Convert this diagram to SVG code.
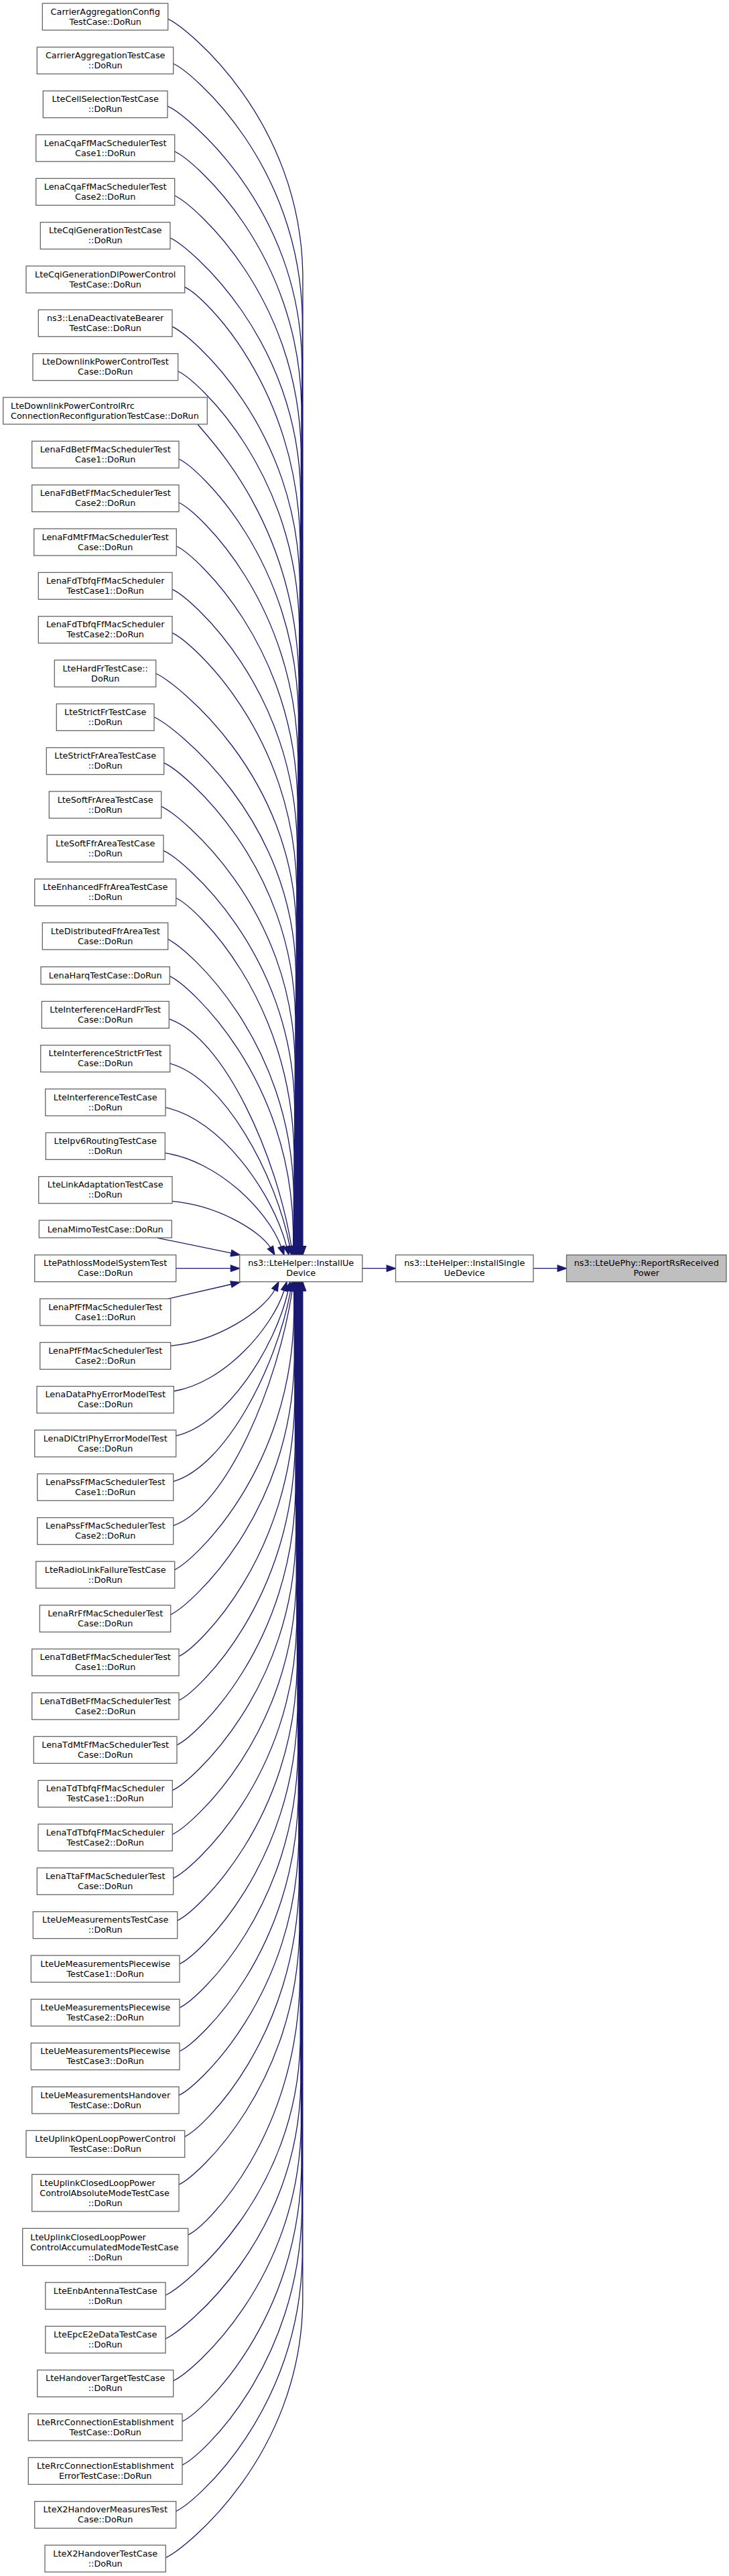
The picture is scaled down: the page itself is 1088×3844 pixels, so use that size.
<svg xmlns="http://www.w3.org/2000/svg" width="1088" height="3844" viewBox="0 0 1088 3844">
<style>
.n rect{fill:#fff;stroke:#666;stroke-width:1.3}
.g rect{fill:#bfbfbf;stroke:#666;stroke-width:1.3}
text{font-family:"DejaVu Sans",sans-serif;font-size:12.8px;fill:#000;text-anchor:middle}
text.l{text-anchor:start}
.e path{fill:none;stroke:#191970;stroke-width:1.3}
.e polygon{fill:#191970;stroke:#191970;stroke-width:1.3}
</style>
<rect width="1088" height="3844" fill="#fff"/>
<g id="connectors" class="e">
<path d="M250.7,28.3 C280.7,42.3 447.9,178.3 451.9,408.3 L451.9,1859.7"/><polygon points="447.2,1859.7 451.9,1872.7 456.6,1859.7"/>
<path d="M258.7,95 C288.7,109 447.3,245 451.3,475 L451.3,1859.7"/><polygon points="446.6,1859.7 451.3,1872.7 456,1859.7"/>
<path d="M250,158.3 C280,172.3 446.6,308.3 450.6,538.3 L450.6,1859.7"/><polygon points="445.9,1859.7 450.6,1872.7 455.3,1859.7"/>
<path d="M260.7,226 C290.7,240 446,376 450,606 L450,1859.7"/><polygon points="445.3,1859.7 450,1872.7 454.7,1859.7"/>
<path d="M260.7,292 C290.7,306 445.3,442 449.3,672 L449.3,1859.7"/><polygon points="444.6,1859.7 449.3,1872.7 454,1859.7"/>
<path d="M254,355 C284,369 444.7,505 448.7,735 L448.7,1859.7"/><polygon points="444,1859.7 448.7,1872.7 453.4,1859.7"/>
<path d="M275.7,428.3 C305.7,442.3 444,578.3 448,808.3 L448,1859.7"/><polygon points="443.3,1859.7 448,1872.7 452.7,1859.7"/>
<path d="M257,487.3 C287,501.3 443.4,637.3 447.4,867.3 L447.4,1859.7"/><polygon points="442.7,1859.7 447.4,1872.7 452.1,1859.7"/>
<path d="M265.7,554 C295.7,568 442.7,704 446.7,934 L446.7,1859.7"/><polygon points="442,1859.7 446.7,1872.7 451.4,1859.7"/>
<path d="M295,633 C312,655 442,783 446,1013 L446,1859.7"/><polygon points="441.3,1859.7 446,1872.7 450.7,1859.7"/>
<path d="M267,685 C297,699 441.4,835 445.4,1065 L445.4,1859.7"/><polygon points="440.7,1859.7 445.4,1872.7 450.1,1859.7"/>
<path d="M267,750 C297,764 440.8,900 444.8,1130 L444.8,1859.7"/><polygon points="440.1,1859.7 444.8,1872.7 449.5,1859.7"/>
<path d="M263.3,815 C293.3,829 440.1,965 444.1,1195 L444.1,1859.7"/><polygon points="439.4,1859.7 444.1,1872.7 448.8,1859.7"/>
<path d="M257,879.3 C287,893.3 439.5,1029.3 443.5,1259.3 L443.5,1859.7"/><polygon points="438.8,1859.7 443.5,1872.7 448.2,1859.7"/>
<path d="M257,944.3 C287,958.3 438.8,1094.3 442.8,1324.3 L442.8,1859.7"/><polygon points="438.1,1859.7 442.8,1872.7 447.5,1859.7"/>
<path d="M232.7,1005 C262.7,1019 438.2,1155 442.2,1385 L442.2,1859.7"/><polygon points="437.5,1859.7 442.2,1872.7 446.9,1859.7"/>
<path d="M230,1070 C260,1084 437.5,1220 441.5,1450 L441.5,1859.7"/><polygon points="436.8,1859.7 441.5,1872.7 446.2,1859.7"/>
<path d="M244.7,1138.3 C274.7,1152.3 436.9,1288.3 440.9,1518.3 L440.9,1859.7"/><polygon points="436.2,1859.7 440.9,1872.7 445.6,1859.7"/>
<path d="M240.7,1203.3 C270.7,1217.3 436.2,1353.3 440.2,1583.3 L440.2,1859.7"/><polygon points="435.5,1859.7 440.2,1872.7 444.9,1859.7"/>
<path d="M244,1269.3 C274,1283.3 435.6,1419.3 439.6,1649.3 L439.6,1859.7"/><polygon points="434.9,1859.7 439.6,1872.7 444.3,1859.7"/>
<path d="M262.7,1340 C292.7,1354 434.9,1490 438.9,1720 L438.9,1859.7"/><polygon points="434.2,1859.7 438.9,1872.7 443.6,1859.7"/>
<path d="M250.7,1401.7 C280.7,1415.7 434.3,1551.7 438.3,1781.7 L438.3,1859.7"/><polygon points="433.6,1859.7 438.3,1872.7 443,1859.7"/>
<path d="M253.3,1456.7 C283.3,1470.7 433.6,1606.7 437.6,1836.7 L437.6,1859.7"/><polygon points="432.9,1859.7 437.6,1872.7 442.3,1859.7"/>
<path d="M252.3,1520.7 C334.7,1548.1 413.4,1726.1 434.9,1859.9"/><polygon points="430.3,1860.6 437,1872.7 439.5,1859.2"/>
<path d="M253.7,1587 C334.4,1609.1 411.6,1752.7 432.5,1859.9"/><polygon points="427.9,1860.8 435,1872.7 437.1,1859"/>
<path d="M247,1652.7 C328.7,1669.5 406.8,1779.1 427.8,1860.1"/><polygon points="423.3,1861.2 431,1872.7 432.3,1859"/>
<path d="M246.3,1720.7 C324.8,1732.1 399.8,1806.4 419.6,1860.4"/><polygon points="415.2,1861.9 424,1872.7 424,1858.9"/>
<path d="M257,1792.7 C323.6,1798.4 387.2,1835.7 403.4,1861.5"/><polygon points="399.4,1863.8 410,1872.7 407.5,1859.2"/>
<path d="M235,1847.3 L345,1869.9"/><polygon points="344.1,1874.5 358,1872.5 345.9,1865.3"/>
<path d="M262.7,1892.7 L344.4,1892.7"/><polygon points="344.4,1888 357.7,1892.7 344.4,1897.4"/>
<path d="M250,1938.3 L345,1916.5"/><polygon points="346.1,1921 358,1913.5 343.9,1911.9"/>
<path d="M254.7,2008.3 C325.3,2001.4 392.7,1956.5 410,1924.8"/><polygon points="414.2,1926.9 416,1912.7 405.8,1922.7"/>
<path d="M259.3,2076 C333.9,2063.7 405.1,1983.9 424.1,1925.7"/><polygon points="428.6,1927.1 428,1912.7 419.6,1924.3"/>
<path d="M262.7,2142.7 C338.3,2125.1 410.6,2010.8 430.1,1926"/><polygon points="434.7,1927 433,1912.7 425.5,1925"/>
<path d="M258.7,2210.7 C337.7,2187.7 413.1,2038 433.7,1926.1"/><polygon points="438.3,1926.9 436,1912.7 429.1,1925.3"/>
<path d="M258.7,2276.7 C338.7,2248.4 415.2,2064.5 436.1,1926.2"/><polygon points="440.7,1926.9 438,1912.7 431.5,1925.5"/>
<path d="M260.7,2342.3 C290.7,2328.3 434.6,2192.3 438.6,1962.3 L438.6,1926"/><polygon points="433.9,1926 438.6,1912.7 443.3,1926"/>
<path d="M254.7,2409.3 C284.7,2395.3 435.2,2259.3 439.2,2029.3 L439.2,1926"/><polygon points="434.5,1926 439.2,1912.7 443.9,1926"/>
<path d="M267,2471.7 C297,2457.7 435.8,2321.7 439.8,2091.7 L439.8,1926"/><polygon points="435.1,1926 439.8,1912.7 444.5,1926"/>
<path d="M267,2537.3 C297,2523.3 436.4,2387.3 440.4,2157.3 L440.4,1926"/><polygon points="435.7,1926 440.4,1912.7 445.1,1926"/>
<path d="M264,2604 C294,2590 437,2454 441,2224 L441,1926"/><polygon points="436.3,1926 441,1912.7 445.7,1926"/>
<path d="M257.3,2671.7 C287.3,2657.7 437.6,2521.7 441.6,2291.7 L441.6,1926"/><polygon points="436.9,1926 441.6,1912.7 446.3,1926"/>
<path d="M257.3,2737.3 C287.3,2723.3 438.2,2587.3 442.2,2357.3 L442.2,1926"/><polygon points="437.5,1926 442.2,1912.7 446.9,1926"/>
<path d="M258.7,2802.7 C288.7,2788.7 438.8,2652.7 442.8,2422.7 L442.8,1926"/><polygon points="438.1,1926 442.8,1912.7 447.5,1926"/>
<path d="M264.7,2866 C294.7,2852 439.4,2716 443.4,2486 L443.4,1926"/><polygon points="438.7,1926 443.4,1912.7 448.1,1926"/>
<path d="M268,2930.7 C298,2916.7 440,2780.7 444,2550.7 L444,1926"/><polygon points="439.3,1926 444,1912.7 448.7,1926"/>
<path d="M268,2996 C298,2982 440.6,2846 444.6,2616 L444.6,1926"/><polygon points="439.9,1926 444.6,1912.7 449.3,1926"/>
<path d="M268,3061 C298,3047 441.2,2911 445.2,2681 L445.2,1926"/><polygon points="440.5,1926 445.2,1912.7 449.9,1926"/>
<path d="M267,3126.7 C297,3112.7 441.8,2976.7 445.8,2746.7 L445.8,1926"/><polygon points="441.1,1926 445.8,1912.7 450.5,1926"/>
<path d="M275.7,3188.3 C305.7,3174.3 442.4,3038.3 446.4,2808.3 L446.4,1926"/><polygon points="441.7,1926 446.4,1912.7 451.1,1926"/>
<path d="M267,3260 C297,3246 443,3110 447,2880 L447,1926"/><polygon points="442.3,1926 447,1912.7 451.7,1926"/>
<path d="M280.7,3335 C310.7,3321 443.6,3185 447.6,2955 L447.6,1926"/><polygon points="442.9,1926 447.6,1912.7 452.3,1926"/>
<path d="M247,3425 C277,3411 444.2,3275 448.2,3045 L448.2,1926"/><polygon points="443.5,1926 448.2,1912.7 452.9,1926"/>
<path d="M247,3490 C277,3476 444.8,3340 448.8,3110 L448.8,1926"/><polygon points="444.1,1926 448.8,1912.7 453.5,1926"/>
<path d="M258.7,3552.7 C288.7,3538.7 445.4,3402.7 449.4,3172.7 L449.4,1926"/><polygon points="444.7,1926 449.4,1912.7 454.1,1926"/>
<path d="M272,3613.3 C302,3599.3 446,3463.3 450,3233.3 L450,1926"/><polygon points="445.3,1926 450,1912.7 454.7,1926"/>
<path d="M272,3678.3 C302,3664.3 446.6,3528.3 450.6,3298.3 L450.6,1926"/><polygon points="445.9,1926 450.6,1912.7 455.3,1926"/>
<path d="M262.7,3747.3 C292.7,3733.3 447.2,3597.3 451.2,3367.3 L451.2,1926"/><polygon points="446.5,1926 451.2,1912.7 455.9,1926"/>
<path d="M247.3,3816.7 C277.3,3802.7 447.8,3666.7 451.8,3436.7 L451.8,1926"/><polygon points="447.1,1926 451.8,1912.7 456.5,1926"/>
<path d="M540.7,1892.7 L577.2,1892.7"/><polygon points="577.2,1888 590.5,1892.7 577.2,1897.4"/>
<path d="M796,1892.7 L832.2,1892.7"/><polygon points="832.2,1888 845.5,1892.7 832.2,1897.4"/>
</g>
<g id="n1" class="n"><rect x="63.3" y="5" width="187.4" height="40"/><text x="157.2" y="21.5">CarrierAggregationConfig</text><text x="157.2" y="36.5">TestCase::DoRun</text></g>
<g id="n2" class="n"><rect x="55.3" y="70.33" width="203.4" height="40"/><text x="157.2" y="86.8">CarrierAggregationTestCase</text><text x="157.2" y="101.8">::DoRun</text></g>
<g id="n3" class="n"><rect x="64.3" y="135.67" width="185.7" height="40"/><text x="157.2" y="152.2">LteCellSelectionTestCase</text><text x="157.2" y="167.2">::DoRun</text></g>
<g id="n4" class="n"><rect x="53.7" y="201" width="207" height="40"/><text x="157.2" y="217.5">LenaCqaFfMacSchedulerTest</text><text x="157.2" y="232.5">Case1::DoRun</text></g>
<g id="n5" class="n"><rect x="53.7" y="266.33" width="207" height="40"/><text x="157.2" y="282.8">LenaCqaFfMacSchedulerTest</text><text x="157.2" y="297.8">Case2::DoRun</text></g>
<g id="n6" class="n"><rect x="60.3" y="331.67" width="193.7" height="40"/><text x="157.2" y="348.2">LteCqiGenerationTestCase</text><text x="157.2" y="363.2">::DoRun</text></g>
<g id="n7" class="n"><rect x="39" y="397" width="236.7" height="40"/><text x="157.2" y="413.5">LteCqiGenerationDlPowerControl</text><text x="157.2" y="428.5">TestCase::DoRun</text></g>
<g id="n8" class="n"><rect x="57.3" y="462.33" width="199.7" height="40"/><text x="157.2" y="478.8">ns3::LenaDeactivateBearer</text><text x="157.2" y="493.8">TestCase::DoRun</text></g>
<g id="n9" class="n"><rect x="49" y="527.67" width="216.7" height="40"/><text x="157.2" y="544.2">LteDownlinkPowerControlTest</text><text x="157.2" y="559.2">Case::DoRun</text></g>
<g id="n10" class="n"><rect x="4.7" y="593" width="304.6" height="40"/><text class="l" x="16" y="609.5">LteDownlinkPowerControlRrc</text><text class="l" x="16" y="624.5">ConnectionReconfigurationTestCase::DoRun</text></g>
<g id="n11" class="n"><rect x="47.7" y="658.33" width="219.3" height="40"/><text x="157.2" y="674.8">LenaFdBetFfMacSchedulerTest</text><text x="157.2" y="689.8">Case1::DoRun</text></g>
<g id="n12" class="n"><rect x="47.7" y="723.67" width="219.3" height="40"/><text x="157.2" y="740.2">LenaFdBetFfMacSchedulerTest</text><text x="157.2" y="755.2">Case2::DoRun</text></g>
<g id="n13" class="n"><rect x="50.7" y="789" width="212.6" height="40"/><text x="157.2" y="805.5">LenaFdMtFfMacSchedulerTest</text><text x="157.2" y="820.5">Case::DoRun</text></g>
<g id="n14" class="n"><rect x="57.3" y="854.33" width="199.7" height="40"/><text x="157.2" y="870.8">LenaFdTbfqFfMacScheduler</text><text x="157.2" y="885.8">TestCase1::DoRun</text></g>
<g id="n15" class="n"><rect x="57.3" y="919.67" width="199.7" height="40"/><text x="157.2" y="936.2">LenaFdTbfqFfMacScheduler</text><text x="157.2" y="951.2">TestCase2::DoRun</text></g>
<g id="n16" class="n"><rect x="81.3" y="985" width="151.4" height="40"/><text x="157.2" y="1001.5">LteHardFrTestCase::</text><text x="157.2" y="1016.5">DoRun</text></g>
<g id="n17" class="n"><rect x="84.3" y="1050.33" width="145.7" height="40"/><text x="157.2" y="1066.8">LteStrictFrTestCase</text><text x="157.2" y="1081.8">::DoRun</text></g>
<g id="n18" class="n"><rect x="69.3" y="1115.67" width="175.4" height="40"/><text x="157.2" y="1132.2">LteStrictFrAreaTestCase</text><text x="157.2" y="1147.2">::DoRun</text></g>
<g id="n19" class="n"><rect x="73.3" y="1181" width="167.4" height="40"/><text x="157.2" y="1197.5">LteSoftFrAreaTestCase</text><text x="157.2" y="1212.5">::DoRun</text></g>
<g id="n20" class="n"><rect x="70.3" y="1246.33" width="173.7" height="40"/><text x="157.2" y="1262.8">LteSoftFfrAreaTestCase</text><text x="157.2" y="1277.8">::DoRun</text></g>
<g id="n21" class="n"><rect x="51.7" y="1311.67" width="211" height="40"/><text x="157.2" y="1328.2">LteEnhancedFfrAreaTestCase</text><text x="157.2" y="1343.2">::DoRun</text></g>
<g id="n22" class="n"><rect x="63.3" y="1377" width="187.4" height="40"/><text x="157.2" y="1393.5">LteDistributedFfrAreaTest</text><text x="157.2" y="1408.5">Case::DoRun</text></g>
<g id="n23" class="n"><rect x="61" y="1442.7" width="192.3" height="26"/><text x="157.2" y="1460.2">LenaHarqTestCase::DoRun</text></g>
<g id="n24" class="n"><rect x="62.3" y="1494.33" width="190" height="40"/><text x="157.2" y="1510.8">LteInterferenceHardFrTest</text><text x="157.2" y="1525.8">Case::DoRun</text></g>
<g id="n25" class="n"><rect x="60.7" y="1559.67" width="193" height="40"/><text x="157.2" y="1576.2">LteInterferenceStrictFrTest</text><text x="157.2" y="1591.2">Case::DoRun</text></g>
<g id="n26" class="n"><rect x="67.7" y="1625" width="179.3" height="40"/><text x="157.2" y="1641.5">LteInterferenceTestCase</text><text x="157.2" y="1656.5">::DoRun</text></g>
<g id="n27" class="n"><rect x="68.3" y="1690.33" width="178" height="40"/><text x="157.2" y="1706.8">LteIpv6RoutingTestCase</text><text x="157.2" y="1721.8">::DoRun</text></g>
<g id="n28" class="n"><rect x="57.7" y="1755.67" width="199.3" height="40"/><text x="157.2" y="1772.2">LteLinkAdaptationTestCase</text><text x="157.2" y="1787.2">::DoRun</text></g>
<g id="n29" class="n"><rect x="58.3" y="1821" width="198" height="26"/><text x="157.2" y="1838.5">LenaMimoTestCase::DoRun</text></g>
<g id="n30" class="n"><rect x="51.7" y="1872.67" width="211" height="40"/><text x="157.2" y="1889.2">LtePathlossModelSystemTest</text><text x="157.2" y="1904.2">Case::DoRun</text></g>
<g id="n31" class="n"><rect x="59.7" y="1938" width="195" height="40"/><text x="157.2" y="1954.5">LenaPfFfMacSchedulerTest</text><text x="157.2" y="1969.5">Case1::DoRun</text></g>
<g id="n32" class="n"><rect x="59.7" y="2003.33" width="195" height="40"/><text x="157.2" y="2019.8">LenaPfFfMacSchedulerTest</text><text x="157.2" y="2034.8">Case2::DoRun</text></g>
<g id="n33" class="n"><rect x="55" y="2068.67" width="204.3" height="40"/><text x="157.2" y="2085.2">LenaDataPhyErrorModelTest</text><text x="157.2" y="2100.2">Case::DoRun</text></g>
<g id="n34" class="n"><rect x="51.7" y="2134" width="211" height="40"/><text x="157.2" y="2150.5">LenaDlCtrlPhyErrorModelTest</text><text x="157.2" y="2165.5">Case::DoRun</text></g>
<g id="n35" class="n"><rect x="55.7" y="2199.33" width="203" height="40"/><text x="157.2" y="2215.8">LenaPssFfMacSchedulerTest</text><text x="157.2" y="2230.8">Case1::DoRun</text></g>
<g id="n36" class="n"><rect x="55.7" y="2264.67" width="203" height="40"/><text x="157.2" y="2281.2">LenaPssFfMacSchedulerTest</text><text x="157.2" y="2296.2">Case2::DoRun</text></g>
<g id="n37" class="n"><rect x="53.7" y="2330" width="207" height="40"/><text x="157.2" y="2346.5">LteRadioLinkFailureTestCase</text><text x="157.2" y="2361.5">::DoRun</text></g>
<g id="n38" class="n"><rect x="59.3" y="2395.33" width="195.4" height="40"/><text x="157.2" y="2411.8">LenaRrFfMacSchedulerTest</text><text x="157.2" y="2426.8">Case::DoRun</text></g>
<g id="n39" class="n"><rect x="47.7" y="2460.67" width="219.3" height="40"/><text x="157.2" y="2477.2">LenaTdBetFfMacSchedulerTest</text><text x="157.2" y="2492.2">Case1::DoRun</text></g>
<g id="n40" class="n"><rect x="47.7" y="2526" width="219.3" height="40"/><text x="157.2" y="2542.5">LenaTdBetFfMacSchedulerTest</text><text x="157.2" y="2557.5">Case2::DoRun</text></g>
<g id="n41" class="n"><rect x="50.3" y="2591.33" width="213.7" height="40"/><text x="157.2" y="2607.8">LenaTdMtFfMacSchedulerTest</text><text x="157.2" y="2622.8">Case::DoRun</text></g>
<g id="n42" class="n"><rect x="57" y="2656.67" width="200.3" height="40"/><text x="157.2" y="2673.2">LenaTdTbfqFfMacScheduler</text><text x="157.2" y="2688.2">TestCase1::DoRun</text></g>
<g id="n43" class="n"><rect x="57" y="2722" width="200.3" height="40"/><text x="157.2" y="2738.5">LenaTdTbfqFfMacScheduler</text><text x="157.2" y="2753.5">TestCase2::DoRun</text></g>
<g id="n44" class="n"><rect x="55.3" y="2787.33" width="203.4" height="40"/><text x="157.2" y="2803.8">LenaTtaFfMacSchedulerTest</text><text x="157.2" y="2818.8">Case::DoRun</text></g>
<g id="n45" class="n"><rect x="49.3" y="2852.67" width="215.4" height="40"/><text x="157.2" y="2869.2">LteUeMeasurementsTestCase</text><text x="157.2" y="2884.2">::DoRun</text></g>
<g id="n46" class="n"><rect x="46.3" y="2918" width="221.7" height="40"/><text x="157.2" y="2934.5">LteUeMeasurementsPiecewise</text><text x="157.2" y="2949.5">TestCase1::DoRun</text></g>
<g id="n47" class="n"><rect x="46.3" y="2983.33" width="221.7" height="40"/><text x="157.2" y="2999.8">LteUeMeasurementsPiecewise</text><text x="157.2" y="3014.8">TestCase2::DoRun</text></g>
<g id="n48" class="n"><rect x="46.3" y="3048.67" width="221.7" height="40"/><text x="157.2" y="3065.2">LteUeMeasurementsPiecewise</text><text x="157.2" y="3080.2">TestCase3::DoRun</text></g>
<g id="n49" class="n"><rect x="47.7" y="3114" width="219.3" height="40"/><text x="157.2" y="3130.5">LteUeMeasurementsHandover</text><text x="157.2" y="3145.5">TestCase::DoRun</text></g>
<g id="n50" class="n"><rect x="39" y="3179.33" width="236.7" height="40"/><text x="157.2" y="3195.8">LteUplinkOpenLoopPowerControl</text><text x="157.2" y="3210.8">TestCase::DoRun</text></g>
<g id="n51" class="n"><rect x="47.7" y="3244.67" width="219.3" height="55.33"/><text class="l" x="59.3" y="3262">LteUplinkClosedLoopPower</text><text class="l" x="59.3" y="3277">ControlAbsoluteModeTestCase</text><text x="157.2" y="3292">::DoRun</text></g>
<g id="n52" class="n"><rect x="33.7" y="3325.33" width="247" height="55.33"/><text class="l" x="45.3" y="3342.7">LteUplinkClosedLoopPower</text><text class="l" x="45.3" y="3357.7">ControlAccumulatedModeTestCase</text><text x="157.2" y="3372.7">::DoRun</text></g>
<g id="n53" class="n"><rect x="67.7" y="3406" width="179.3" height="40"/><text x="157.2" y="3422.5">LteEnbAntennaTestCase</text><text x="157.2" y="3437.5">::DoRun</text></g>
<g id="n54" class="n"><rect x="67.7" y="3471.33" width="179.3" height="40"/><text x="157.2" y="3487.8">LteEpcE2eDataTestCase</text><text x="157.2" y="3502.8">::DoRun</text></g>
<g id="n55" class="n"><rect x="55.7" y="3536.67" width="203" height="40"/><text x="157.2" y="3553.2">LteHandoverTargetTestCase</text><text x="157.2" y="3568.2">::DoRun</text></g>
<g id="n56" class="n"><rect x="42.3" y="3602" width="229.7" height="40"/><text x="157.2" y="3618.5">LteRrcConnectionEstablishment</text><text x="157.2" y="3633.5">TestCase::DoRun</text></g>
<g id="n57" class="n"><rect x="42.3" y="3667.33" width="229.7" height="40"/><text x="157.2" y="3683.8">LteRrcConnectionEstablishment</text><text x="157.2" y="3698.8">ErrorTestCase::DoRun</text></g>
<g id="n58" class="n"><rect x="51.7" y="3732.67" width="211" height="40"/><text x="157.2" y="3749.2">LteX2HandoverMeasuresTest</text><text x="157.2" y="3764.2">Case::DoRun</text></g>
<g id="n59" class="n"><rect x="67" y="3798" width="180.3" height="40"/><text x="157.2" y="3814.5">LteX2HandoverTestCase</text><text x="157.2" y="3829.5">::DoRun</text></g>
<g id="installUeDevice" class="n"><rect x="357.7" y="1872.67" width="183" height="40"/><text x="449.2" y="1889.2">ns3::LteHelper::InstallUe</text><text x="449.2" y="1904.2">Device</text></g>
<g id="installSingleUeDevice" class="n"><rect x="590.5" y="1872.67" width="205.5" height="40"/><text x="693.25" y="1889.2">ns3::LteHelper::InstallSingle</text><text x="693.25" y="1904.2">UeDevice</text></g>
<g id="reportRsReceivedPower" class="g"><rect x="845.5" y="1872.67" width="238.5" height="40"/><text x="964.75" y="1889.2">ns3::LteUePhy::ReportRsReceived</text><text x="964.75" y="1904.2">Power</text></g>
</svg>
